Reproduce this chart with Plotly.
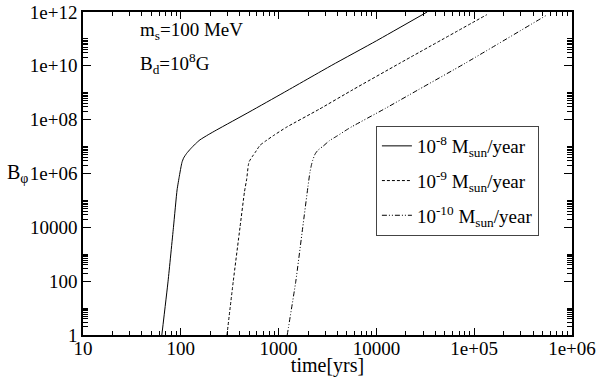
import plotly.graph_objects as go

# curves (time in yrs, B_phi)
t_m8 = [64, 74.1, 84.1, 91.6, 96.6, 100, 102.8, 107, 114.8, 126, 141, 157, 190.5, 233, 510, 1110, 3500, 10000, 33000]
b_m8 = [1, 1e2, 1e4, 2.45e5, 7.9e5, 1.6e6, 2.6e6, 3.8e6, 5.6e6, 8.3e6, 1.26e7, 1.78e7, 2.75e7, 4.17e7,
        2e8, 9.8e8, 1.05e10, 8.5e10, 1e12]

t_m9 = [296.5, 344, 403, 448, 472, 490, 501, 537, 575, 646, 735, 891, 1200, 2630, 5750, 17400, 135000]
b_m9 = [1, 1e2, 1e4, 2.1e5, 6.3e5, 2e6, 2.8e6, 4.2e6, 6e6, 1.12e7, 1.6e7, 2.6e7, 5.2e7, 2.5e8, 1.3e9,
        1.26e10, 8e11]

t_m10 = [1225, 1500, 1765, 1995, 2090, 2175, 2240, 2355, 2510, 2865, 3310, 3980, 4965, 5620, 12300,
         26900, 81300, 562000]
b_m10 = [1, 1e2, 1e4, 3.2e5, 1.1e6, 2.2e6, 3.2e6, 5.2e6, 7.2e6, 1.05e7, 1.66e7, 2.5e7, 4.2e7, 5.5e7,
         2.6e8, 1.3e9, 1.26e10, 8e11]

x_ticks = [10, 100, 1000, 10000, 1e5, 1e6]
x_labels = ["10", "100", "1000", "10000", "1e+05", "1e+06"]
y_ticks = [1, 1e2, 1e4, 1e6, 1e8, 1e10, 1e12]
y_labels = ["1", "100", "10000", "1e+06", "1e+08", "1e+10", "1e+12"]

# minor ticks like xmgrace draws them
x_minor = [m * 10**k for k in range(1, 6) for m in range(2, 10)]
y_minor = [m * 100**k for k in range(0, 6) for m in range(2, 11)]

FONT = "Liberation Serif"

fig = go.Figure()
fig.add_trace(go.Scatter(x=t_m8, y=b_m8, mode="lines", legendgroup="a",
                         line=dict(color="black", width=1, shape="spline", smoothing=0.5),
                         name="10<sup>-8</sup> M<sub>sun</sub>/year"))
fig.add_trace(go.Scatter(x=t_m9, y=b_m9, mode="lines", legendgroup="b",
                         line=dict(color="black", width=1, dash="3px,2px", shape="spline", smoothing=0.5),
                         name="10<sup>-9</sup> M<sub>sun</sub>/year"))
fig.add_trace(go.Scatter(x=t_m10, y=b_m10, mode="lines", legendgroup="c",
                         line=dict(color="black", width=1, dash="5px,2px,1px,2px,1px,2px",
                                   shape="spline", smoothing=0.5),
                         name="10<sup>-10</sup> M<sub>sun</sub>/year"))

axis_common = dict(
    type="log", showgrid=False, zeroline=False, automargin=False,
    showline=True, linecolor="black", linewidth=1.5,
    ticks="inside", tickcolor="black", tickwidth=1,
    mirror="allticks", tickmode="array", ticklabeloverflow="allow",
    tickfont=dict(family=FONT, size=19, color="black"),
)

fig.update_xaxes(**axis_common, range=[1, 6], tickvals=x_ticks, ticktext=x_labels, ticklen=7,
                 ticklabelstandoff=-5,
                 minor=dict(tickmode="array", tickvals=x_minor, ticks="inside", ticklen=4,
                            tickcolor="black", tickwidth=1),
                 title=dict(text="time[yrs]", font=dict(family=FONT, size=20, color="black"),
                            standoff=0))
fig.update_yaxes(**axis_common, range=[0, 12], tickvals=y_ticks, ticktext=y_labels, ticklen=8,
                 minor=dict(tickmode="array", tickvals=y_minor, ticks="inside", ticklen=5,
                            tickcolor="black", tickwidth=1))

fig.add_annotation(text="B<sub>φ</sub>", xref="paper", yref="paper", x=-0.159, y=0.5,
                   xanchor="left", yanchor="middle", showarrow=False,
                   font=dict(family=FONT, size=20, color="black"))
fig.add_annotation(text="m<sub>s</sub>=100 MeV", xref="paper", yref="paper", x=0.113, y=0.985,
                   xanchor="left", yanchor="top", showarrow=False,
                   font=dict(family=FONT, size=19, color="black"))
fig.add_annotation(text="B<sub>d</sub>=10<sup>8</sup>G", xref="paper", yref="paper", x=0.113, y=0.89,
                   xanchor="left", yanchor="top", showarrow=False,
                   font=dict(family=FONT, size=19, color="black"))

fig.update_layout(
    width=600, height=377,
    margin=dict(l=83, r=28, t=12, b=42),
    font=dict(family=FONT, color="black"),
    plot_bgcolor="white", paper_bgcolor="white",
    showlegend=True,
    legend=dict(x=0.599, y=0.647, xanchor="left", yanchor="top",
                bgcolor="white", bordercolor="#444444", borderwidth=1,
                font=dict(family=FONT, size=19, color="black"),
                tracegroupgap=7, itemwidth=30),
)

# drop the browser's default 8px body margin so the figure sits at the page corner
fig.write_html("out.html", config={"displayModeBar": False},
               post_script="document.body.style.margin='0';")
